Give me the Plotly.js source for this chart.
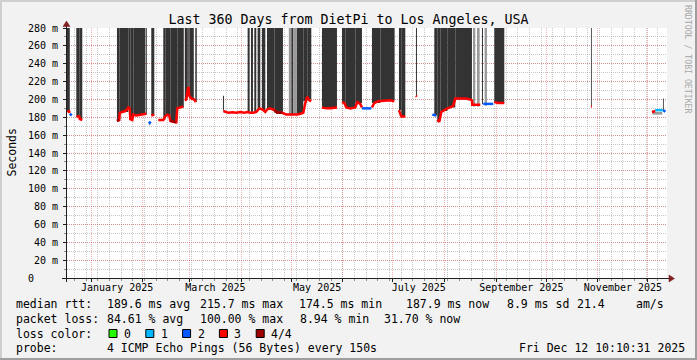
<!DOCTYPE html>
<html><head><meta charset="utf-8">
<script src="https://cdn.plot.ly/plotly-3.0.1.min.js"></script>
<style>html,body{margin:0;padding:0;background:#f2f2f2;}#chart{width:697px;height:360px;}</style>
</head><body><div id="chart"></div>
<script>
// All time values: days since 2025-01-01 00:00.
// Dark smoke blocks (ping spread), lower / upper edge in ms (300 = beyond top of chart)
const smokeStart = [-14.6,-9.0,-7.2,15.4,17.0,22.2,23.4,25.2,32.7,36.0,43.2,44.4,47.4,51.6,56.1,57.6,58.8,62.4,79.0,93.8,95.8,97.8,99.8,102.4,105.4,109.8,120.0,123.3,127.2,129.6,138.4,150.4,152.4,158.4,168.4,173.4,184.6,186.0,194.8,205.8,207.6,209.4,213.6,218.4,234.4,241.8,299.8,343.0];
const smokeEnd   = [-12.9,-7.2,-5.4,17.0,22.2,23.4,25.2,32.4,33.3,37.8,44.4,47.4,51.6,55.5,57.6,58.5,61.5,63.3,79.6,95.0,97.0,99.0,101.4,104.4,109.8,115.0,121.2,127.2,129.6,132.0,147.4,152.4,158.4,162.4,173.4,182.0,186.0,188.4,195.4,207.6,209.4,213.6,218.4,228.4,235.0,247.8,300.3,343.5];
const smokeLow   = [186,181,178,177,186,190,178,183,183,182,177,182,175,191,200,213,201,197,188,186,186,186,189,188,189,185,183,184,198,200,191,197,191,196,196,199,188,181,204,182,176,187,191,200,195,196,192,188];
const smokeHigh  = [300,300,300,300,300,300,300,300,300,300,300,300,300,300,300,300,300,300,204,300,300,300,300,300,300,300,300,300,300,300,300,300,300,300,300,300,300,300,300,300,300,300,300,300,300,300,300,201];
// Light grey smoke
const graySmokeStart = [34.5,118.5,121.2,229.0,231.4,236.0,336.6];
const graySmokeEnd   = [35.4,120.0,123.3,230.4,233.0,237.4,342.6];
const graySmokeLow   = [171,183,183,192,192,193,183];
const graySmokeHigh  = [175,300,300,300,300,300,186];
// Median RTT (ms) coloured by loss; null = no data
const medRedDay = [-14.4,-13.5,-12.9,null,-9.0,-7.2,-6.9,-5.4,null,
 15.4,16.8,17.1,18.6,20.4,21.6,22.2,23.1,23.4,24.6,25.2,27.0,29.4,31.8,33.0,null,
 36.0,37.8,null,
 40.2,42.6,43.2,44.4,45.6,46.8,47.4,49.2,51.0,51.6,53.4,55.2,null,
 56.1,57.0,57.9,58.4,58.8,60.0,61.8,62.7,null,
 79.2,82.2,84.6,87.0,89.4,91.8,93.6,95.4,97.2,99.0,100.8,102.6,104.4,105.6,107.4,109.8,111.6,114.6,117.0,119.4,121.8,123.6,125.4,127.2,128.4,129.6,130.8,132.0,null,
 138.4,141.0,143.4,147.4,null,
 150.4,151.8,153.0,155.4,158.4,159.6,161.4,162.4,null,
 168.4,169.8,172.2,176.4,179.4,181.8,null,
 184.6,185.4,186.0,188.4,null,
 194.8,195.3,null,
 207.6,208.8,210.0,211.8,213.6,215.4,217.2,218.4,221.4,224.4,227.4,228.4,228.6,233.4,null,
 241.8,244.2,247.8,null,
 299.8,300.3,null,
 336.4,338.4];
const medRedRtt = [186,187,185,null,181,181,178,177,null,
 176,177,185,186,187,189,191,190,178,177,183,182,182.5,183,184,null,
 182,183,null,
 177,177,177,181,183,182,176,175,174.5,190,191,192,null,
 199,200,211,214,204,201,200,197,null,
 187,185,185.5,185,186,185,186,185,185,186,190,189,186,189,190,188,185,185,183,183,183,183,184,185,196,203,199,198,null,
 191,190,190,191,null,
 197,196,191,190,191,197,195,191,null,
 191,196,198,199,199,198,null,
 188,183,181,181,null,
 204,203,null,
 177,175,186,188,190,191,193,201,201,201,200,199,194,194,null,
 197,196,196,null,
 192,192,null,
 186,187];
const medDarkRedDay = [15.4,16.8,null,47.4,49.2,51.0,null,109.8,111.6,114.6];
const medDarkRedRtt = [176,177,null,176,175,174.5,null,188,185,185];
const medBlueDay = [-12.9,-11.7,null,34.5,35.7,null,162.4,168.0,null,204.6,207.0,null,235.2,241.2,null,343.2,344.4];
const medBlueRtt = [184,182,null,175,173,null,190,190,null,183,182,null,195,195,null,188,186];
const medLightBlueDay = [338.4,342.9];
const medLightBlueRtt = [188,188];
// Axis ticks
const yTickVals = [0,20,40,60,80,100,120,140,160,180,200,220,240,260,280];
const yTickText = ['0\u00a0\u00a0\u00a0\u00a0','20 m','40 m','60 m','80 m','100 m','120 m','140 m','160 m','180 m','200 m','220 m','240 m','260 m','280 m'];
const monthStarts = ['2025-01-01','2025-02-01','2025-03-01','2025-04-01','2025-05-01','2025-06-01','2025-07-01','2025-08-01','2025-09-01','2025-10-01','2025-11-01','2025-12-01'];
const monthLabelPos = ['2025-01-16 12:00','2025-03-16 12:00','2025-05-16 12:00','2025-07-16 12:00','2025-09-16 00:00','2025-11-16 00:00'];
const monthLabels = ['January 2025','March 2025','May 2025','July 2025','September 2025','November 2025'];
const xRange = ['2024-12-17 10:10:31','2025-12-12 10:10:31'];
// Legend / footer texts
const statsRtt = [['median rtt:',16],['189.6 ms avg',107],['215.7 ms max',200],['174.5 ms min',299],['187.9 ms now',406],['8.9 ms sd',507],['21.4',577],['am/s',636]];
const statsLoss = [['packet loss:',16],['84.61 % avg',107],['100.00 % max',200],['8.94 % min',300],['31.70 % now',384]];
const lossLabels = ['0','1','2','3','4/4'];
const lossColors = ['#26ff00','#00b8ff','#0059ff','#ff0000','#a00000'];

const T0 = Date.UTC(2025,0,1), DAY = 86400000;
const toMs = d => (d === null ? null : T0 + d*DAY);
const X = px => (px-67)/600, Y = py => (278-py)/250;

function smokeTrace(s,e,lo,hi,color){
  return {type:'bar', x:s.map((v,i)=>toMs((v+e[i])/2)), width:s.map((v,i)=>(e[i]-v)*DAY),
    base:lo, y:lo.map((v,i)=>hi[i]-v), marker:{color:color,line:{width:0}},
    hoverinfo:'skip', showlegend:false};
}
function medTrace(d,v,color,w){
  return {type:'scatter', mode:'lines', x:d.map(toMs), y:v, connectgaps:false,
    line:{color:color,width:w||2.5}, hoverinfo:'skip', showlegend:false};
}
const traces = [
  smokeTrace(smokeStart,smokeEnd,smokeLow,smokeHigh,'#333333'),
  smokeTrace(graySmokeStart,graySmokeEnd,graySmokeLow,graySmokeHigh,'#999999'),
  medTrace(medRedDay,medRedRtt,lossColors[3]),
  medTrace(medDarkRedDay,medDarkRedRtt,lossColors[4]),
  medTrace(medBlueDay,medBlueRtt,lossColors[2]),
  medTrace(medLightBlueDay,medLightBlueRtt,lossColors[1]),
  {type:'scatter', mode:'markers', x:[monthLabelPos[0]], y:[null], xaxis:'x2', yaxis:'y', hoverinfo:'skip', showlegend:false}
];

const F = 'DejaVu Sans Mono';
const ann = [];
function txt(px,py,t,o){ ann.push(Object.assign({xref:'paper',yref:'paper',x:X(px),y:Y(py),text:t,showarrow:false,xanchor:'left',yanchor:'middle',font:{family:F,size:11.5,color:'#000'},borderpad:0},o||{})); }
statsRtt.forEach(s=>txt(s[1]-1,304,s[0]));
statsLoss.forEach(s=>txt(s[1]-1,319,s[0]));
txt(15,333.5,'loss color:');
const shapes = [];
lossLabels.forEach((l,i)=>{
  const bx = 109 + i*36.8;
  shapes.push({type:'rect',xref:'paper',yref:'paper',x0:X(bx),x1:X(bx+8),y0:Y(337.5),y1:Y(329.5),fillcolor:lossColors[i],line:{color:'#000',width:1}});
  txt(bx+14,333.5,l);
});
txt(15,348,'probe:');
txt(106,348,'4 ICMP Echo Pings (56 Bytes) every 150s');
txt(686,348,'Fri Dec 12 10:10:31 2025',{xanchor:'right'});
txt(11,152.5,'Seconds',{xanchor:'center',textangle:-90});
txt(688,59,'RRDTOOL / TOBI OETIKER',{xanchor:'center',textangle:90,font:{family:F,size:8.2,color:'#a8a8a8'}});

// frame shades
shapes.push({type:'rect',xref:'paper',yref:'paper',x0:X(0),x1:X(2),y0:Y(360),y1:Y(0),fillcolor:'#cfcfcf',line:{width:0}});
shapes.push({type:'rect',xref:'paper',yref:'paper',x0:X(0),x1:X(697),y0:Y(2),y1:Y(0),fillcolor:'#cfcfcf',line:{width:0}});
shapes.push({type:'rect',xref:'paper',yref:'paper',x0:X(695),x1:X(697),y0:Y(360),y1:Y(0),fillcolor:'#9e9e9e',line:{width:0}});
shapes.push({type:'rect',xref:'paper',yref:'paper',x0:X(0),x1:X(697),y0:Y(360),y1:Y(358),fillcolor:'#9e9e9e',line:{width:0}});
// axes with arrows
shapes.push({type:'line',xref:'paper',yref:'paper',x0:X(62),x1:X(669),y0:Y(278.5),y1:Y(278.5),line:{color:'#1f1f1f',width:1},layer:'above'});
shapes.push({type:'line',xref:'paper',yref:'paper',x0:X(66.5),x1:X(66.5),y0:Y(282),y1:Y(26),line:{color:'#1f1f1f',width:1},layer:'above'});
shapes.push({type:'path',xref:'paper',yref:'paper',path:`M ${X(669)},${Y(275)} L ${X(674.5)},${Y(278.5)} L ${X(669)},${Y(282)} Z`,fillcolor:'#7f1f1f',line:{color:'#7f1f1f',width:0.5},layer:'above'});
shapes.push({type:'path',xref:'paper',yref:'paper',path:`M ${X(63)},${Y(26.5)} L ${X(66.5)},${Y(21)} L ${X(70)},${Y(26.5)} Z`,fillcolor:'#7f1f1f',line:{color:'#7f1f1f',width:0.5},layer:'above'});

const MG = 'rgba(222,79,79,0.45)', mg = 'rgba(143,143,143,0.5)', dash = '1px,1px';
const layout = {
  width:697, height:360, margin:{l:67,r:30,t:28,b:82,pad:0},
  paper_bgcolor:'#f2f2f2', plot_bgcolor:'#ffffff',
  barmode:'overlay', showlegend:false, hovermode:false,
  font:{family:F,color:'#000'},
  title:{text:'Last 360 Days from DietPi to Los Angeles, USA', font:{family:F,size:13.3,color:'#000'},
    x:0.5, xref:'container', xanchor:'center', y:1-19/360, yref:'container', yanchor:'middle'},
  xaxis:{type:'date', range:xRange, tickmode:'array', tickvals:monthStarts, showticklabels:false,
    ticks:'outside', ticklen:3, tickcolor:'#1f1f1f', showgrid:true, gridcolor:MG, griddash:dash, gridwidth:1,
    zeroline:false, showline:false, fixedrange:true,
    minor:{tickmode:'linear', tick0:'2024-12-22', dtick:7*DAY, showgrid:true, gridcolor:mg, griddash:dash,
      ticks:'outside', ticklen:2, tickcolor:'#8f8f8f'}},
  xaxis2:{type:'date', overlaying:'x', anchor:'y', side:'bottom', range:xRange, tickmode:'array',
    tickvals:monthLabelPos, ticktext:monthLabels, ticks:'', showgrid:false, zeroline:false, showline:false,
    ticklabelstandoff:2, tickfont:{family:F,size:10,color:'#000'}, fixedrange:true},
  yaxis:{range:[0,280], tickmode:'array', tickvals:yTickVals, ticktext:yTickText, ticks:'outside', ticklen:3,
    tickcolor:'#1f1f1f', showgrid:true, gridcolor:MG, griddash:dash, gridwidth:1, zeroline:false, showline:false,
    ticklabelstandoff:3, tickfont:{family:F,size:10,color:'#000'}, fixedrange:true,
    minor:{tickmode:'linear', tick0:0, dtick:10, showgrid:true, gridcolor:mg, griddash:dash,
      ticks:'outside', ticklen:2, tickcolor:'#8f8f8f'}},
  shapes:shapes, annotations:ann
};
Plotly.newPlot('chart', traces, layout, {staticPlot:true, displayModeBar:false});
</script></body></html>
